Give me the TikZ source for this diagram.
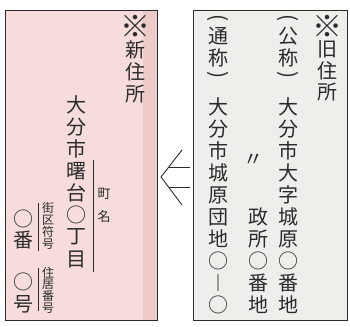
\documentclass[tikz,border=0pt]{standalone}
\usepackage{fontspec}
\usepackage{xcolor}
\setmainfont{Noto Sans CJK JP}
\definecolor{newpink}{HTML}{F6DCDA}
\definecolor{newshade}{HTML}{EDCBCB}
\definecolor{oldgray}{HTML}{EFEEEB}
\definecolor{ink}{HTML}{2B2B2B}

\begin{document}
\begin{tikzpicture}[x=1pt, y=-1pt, ink, font=\fontsize{20}{22}\selectfont,
    every node/.style={inner sep=0pt},
    small/.style={font=\fontsize{12}{13}\selectfont},
    paren/.style={rotate=-90, font=\fontsize{21}{22}\selectfont}]
    \useasboundingbox (0,0) rectangle (350,326);
    \fill[white] (0,0) rectangle (350,326);
    % new address
    \fill[newpink] (5,10) rectangle (157,320);
    \fill[newshade] (143,10) rectangle (157,320);
    \draw[line width=0.9pt] (5,10) rectangle (157,320);
    \node[scale=1.5] (new-1) at (135,26) {※};
    \foreach \c [count=\i] in {新,住,所} {
        \node (new-\i) at (135, 28+22*\i) {\c};
    }
    \foreach \c [count=\i] in {大,分,市,曙,台,○,丁,目} {
        \node (town-\i) at (76, 83+22*\i) {\c};
    }
    \draw[line width=0.8pt] (93,160) -- (93,272);
    \node[font=\fontsize{13}{14}\selectfont] (cho) at (104,194) {町};
    \node[font=\fontsize{13}{14}\selectfont] (mei) at (104,217) {名};
    \node (ban-1) at (23,219) {○};
    \node (ban-2) at (23,240) {番};
    \node (go-1) at (23,282) {○};
    \node (go-2) at (23,304) {号};
    \draw[line width=0.8pt] (38,203) -- (38,251);
    \draw[line width=0.8pt] (38,268) -- (38,311);
    \foreach \c [count=\i] in {街,区,符,号} {
        \node[small] (block-\i) at (48, 196+12*\i) {\c};
    }
    \foreach \c [count=\i] in {住,居,番,号} {
        \node[small] (house-\i) at (48, 261.5+11.6*\i) {\c};
    }
    % arrow
    \draw[line width=0.9pt] (182,150) -- (161,177) -- (182,205);
    \draw[line width=0.9pt] (168.8,167) -- (190,167);
    \draw[line width=0.9pt] (168.8,187) -- (190,187);
    % old address
    \fill[oldgray] (193,10) rectangle (347,320);
    \draw[line width=0.9pt] (193,10) rectangle (347,320);
    \node[scale=1.5] (old-1) at (327,26) {※};
    \foreach \c [count=\i] in {旧,住,所} {
        \node (old-\i) at (327, 28+21.5*\i) {\c};
    }
    \node[paren] (koshou-a) at (288,18) {(};
    \node (koshou-b) at (288,36) {公};
    \node (koshou-c) at (288,58) {称};
    \node[paren] (koshou-d) at (288,75) {)};
    \foreach \c [count=\i] in {大,分,市,大,字,城,原,○,番,地} {
        \node (official-\i) at (288, 85+22*\i) {\c};
    }
    \node[paren] (tsushou-a) at (218,18) {(};
    \node (tsushou-b) at (218,36) {通};
    \node (tsushou-c) at (218,58) {称};
    \node[paren] (tsushou-d) at (218,75) {)};
    \foreach \c [count=\i] in {大,分,市,城,原,団,地,○,︱,○} {
        \node (common-\i) at (218, 85+22*\i) {\c};
    }
    \node (ditto) at (253,160) {〃};
    \foreach \c [count=\i] in {政,所,○,番,地} {
        \node (office-\i) at (258, 195+22*\i) {\c};
    }
\end{tikzpicture}
\end{document}
